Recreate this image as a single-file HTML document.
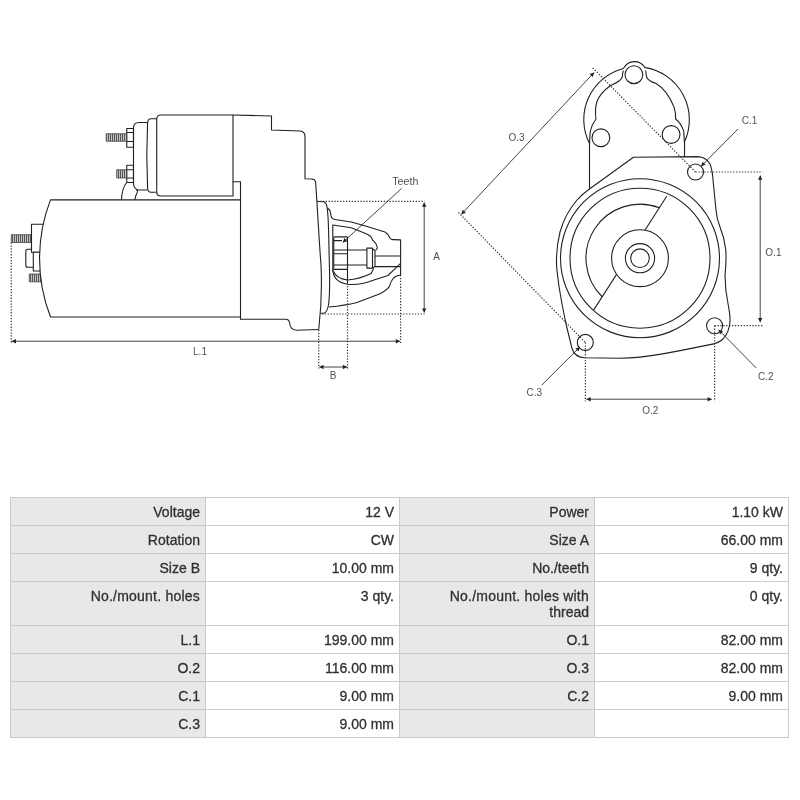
<!DOCTYPE html>
<html><head><meta charset="utf-8"><title>Starter motor dimensions</title>
<style>
html,body{margin:0;padding:0;background:#fff;}
body{width:800px;height:800px;position:relative;overflow:hidden;font-family:"Liberation Sans",sans-serif;}
svg{position:absolute;left:0;top:0;filter:blur(0.25px);}
svg path,svg rect,svg circle,svg line{fill:none;stroke:#202020;stroke-width:1.1;stroke-linejoin:round;stroke-linecap:butt}
svg .dl{stroke:#222;stroke-width:.85}
svg .dot{stroke:#333;stroke-width:1.2;stroke-dasharray:1.3 1.6}
svg .thr{fill:url(#thr);stroke:#444;stroke-width:.8}
svg .wf{fill:#fff}
svg .lb{font-family:"Liberation Sans",sans-serif;fill:#505050;text-anchor:middle}
.tw{position:absolute;left:0;top:.4px;width:800px;height:800px;filter:blur(0.25px)}
.tbg{position:absolute;background:#cbcbcb}
.c{position:absolute;box-sizing:border-box;font-size:14px;line-height:16px;color:#303030;-webkit-text-stroke:.3px #333;text-align:right;padding:6px 5px 0 6px;white-space:nowrap;overflow:hidden}
.k{background:#e8e8e8}
.w{letter-spacing:.22px}
.v{background:#fff}
</style></head><body>
<svg width="800" height="480" viewBox="0 0 800 480">
<defs><pattern id="thr" width="2" height="4" patternUnits="userSpaceOnUse"><rect width="2" height="4" style="fill:#c4c4c4;stroke:none"/><rect width="1" height="4" style="fill:#555;stroke:none"/></pattern></defs>
<rect x="25.8" y="249.25" width="9" height="18" rx="2"/>
<rect x="11.25" y="234.7" width="20.25" height="7.8" class="thr"/>
<rect x="31.5" y="224.2" width="14" height="28" class="wf"/>
<rect x="33.3" y="252.2" width="10" height="18.8" class="wf"/>
<rect x="29.25" y="274" width="14" height="7.8" class="thr"/>
<path class="wf" d="M240.5 199.9 L50.5 199.9 A162 162 0 0 0 50.5 317 L240.5 317"/>
<path d="M233 181.75 L240.5 181.75 L240.5 319.25 L286 319.25 Q289 319.4 289.5 322.5 Q290.3 330 296.5 330.2 L318.75 329.5"/>
<path d="M233 115 L161 115 Q156.75 115 156.75 119 L156.75 192 Q156.75 196 161 196 L233 196 Z"/>
<path d="M156.75 118.75 L151 118.75 Q148 118.75 147.6 122.5 Q146 155 147.6 188.5 Q148 192.25 151 192.25 L156.75 192.25"/>
<path d="M147.6 122.5 L139 122.5 Q133.5 122.5 133.5 128 L133.5 183 Q133.5 189.5 139 190 L147.7 190"/>
<rect x="126.75" y="128.5" width="6.75" height="18.75"/>
<path d="M126.75 132.5 H133.5 M126.75 141.5 H133.5"/>
<rect x="126.75" y="165.25" width="6.75" height="17.25"/>
<path d="M126.75 169.75 H133.5 M126.75 178 H133.5"/>
<rect x="106.2" y="133.75" width="20.5" height="7.5" class="thr"/>
<rect x="116.7" y="169.75" width="10" height="8.25" class="thr"/>
<path d="M126.75 182.5 Q122 188 121.5 199.5"/>
<path d="M136 190 Q138.5 190.5 137 193 Q135.3 196 135 199.5"/>
<path d="M233 115 L271.5 116 L271.5 130 L300 131 Q305 131.4 305 136.5 L305 178.75 L312 179 Q315 179.3 315.6 182 C317 200 319 240 321 265 C322 285 321 310 318.75 329.5"/>
<path d="M317 201.5 L324 201.7 Q326.5 203 327 207 Q328.2 214 328.6 232 L329.5 270 Q330 295 328.5 305 Q327 312.5 324 313.25 L320.5 313.25"/>
<path d="M327.5 208 L330 210.5 L331.25 217 Q332 219 335 219.5 L351.25 222 L366.25 226.25 L385 232 Q388.5 234 390.3 238.5 Q391 239.5 393 239.6 L400.6 239.9 L400.6 275 Q396 275.5 393.5 278 Q391 281 389.5 286 Q388 289.5 380 293.75 L357 302.5 Q345 305.5 328.7 307"/>
<path d="M332.8 271 L332.8 225 L351.25 227.75 L366.25 233.75 Q371.5 236 372.5 240 Q376.5 243 377.4 248 L375.6 250.5"/>
<path d="M333.3 271 Q336 278.5 347.5 280 Q360 279 371 273.5 L373.75 268.5"/>
<path d="M332.8 270 Q333.5 282 347.5 284.3 Q360 285.5 372.5 280.5 L388 275.5 Q395 268.5 400.6 263.3"/>
<path d="M375 256 H400.6 M375 266.6 H400.6"/>
<rect x="366.9" y="248.1" width="5.6" height="20"/>
<path d="M372.5 249 L375 250.5 L375 266.5 L372.5 268"/>
<path d="M347.5 250 H366.9 M347.5 265 H366.9"/>
<path d="M333.75 236.9 V270 M333.75 236.9 H347.5 M333.75 240.6 H342 M333.75 250 H347.5 M333.75 253.75 H347.5 M333.75 265 H347.5 M333.75 269.4 H347.5 M347.5 236.9 V283"/>
<line x1="317.00" y1="201.40" x2="424.60" y2="201.40" class="dot"/>
<line x1="322.00" y1="314.00" x2="424.60" y2="314.00" class="dot"/>
<line x1="424.20" y1="202.60" x2="424.20" y2="312.60" class="dl"/><polygon points="424.20,312.60 422.00,308.40 426.40,308.40" fill="#222" stroke="none"/><polygon points="424.20,202.60 426.40,206.80 422.00,206.80" fill="#222" stroke="none"/>
<text x="436.60" y="259.60" class="lb" font-size="10">A</text>
<line x1="318.75" y1="330.00" x2="318.75" y2="368.50" class="dot"/>
<line x1="347.50" y1="283.00" x2="347.50" y2="368.50" class="dot"/>
<line x1="319.30" y1="367.00" x2="347.00" y2="367.00" class="dl"/><polygon points="347.00,367.00 342.80,369.20 342.80,364.80" fill="#222" stroke="none"/><polygon points="319.30,367.00 323.50,364.80 323.50,369.20" fill="#222" stroke="none"/>
<text x="333.20" y="378.70" class="lb" font-size="10">B</text>
<line x1="11.25" y1="242.50" x2="11.25" y2="343.00" class="dot"/>
<line x1="400.60" y1="275.00" x2="400.60" y2="343.00" class="dot"/>
<line x1="11.80" y1="341.20" x2="400.00" y2="341.20" class="dl"/><polygon points="400.00,341.20 395.80,343.40 395.80,339.00" fill="#222" stroke="none"/><polygon points="11.80,341.20 16.00,339.00 16.00,343.40" fill="#222" stroke="none"/>
<text x="200.00" y="355.40" class="lb" font-size="10">L.1</text>
<line x1="401.50" y1="188.50" x2="342.75" y2="242.50" class="dl"/><polygon points="342.75,242.50 344.35,238.04 347.33,241.28" fill="#222" stroke="none"/>
<text x="405.30" y="184.60" class="lb" font-size="10.7">Teeth</text>
<path d="M589.5 189 L633.4 157.25 L698 156.6 Q706 157 710 164 Q712.5 170 713.4 183.75 L716 210 Q716.8 219 720 227 Q724.5 238 725.8 250 Q726.5 262 725 275 Q725 290 728.25 305 Q730.3 316 730 321 Q729.5 332 723 339 Q718 343.5 710 344.6 L695 347.6 Q662 354.6 640 357.1 Q630 358.2 620 358.3 L584 357.7 Q574.5 356.9 572 348.5 L566 324 L562 304 Q558.5 286 556.7 268 Q555.6 250 560 232 Q565 214 577 200 Q583 193.5 589.5 189"/>
<path d="M589.5 189 L589.5 143.5 A52.8 52.8 0 0 1 622.6 68.7 Q623.5 68.6 623.9 67.8 A12.2 12.2 0 0 1 644.6 67 Q644.9 67.8 645.6 67.6 A52.8 52.8 0 0 1 684.6 141.5 L684.5 157"/>
<path d="M623.3 70.5 Q622.5 74 622.3 77 Q621 81 610.6 85.5 Q600 93 596.8 102 Q594.6 110 596 119 Q591.5 125 590.3 131.25 Q589.6 138 589.5 146"/>
<path d="M645.6 70.5 Q646.2 74 646.6 77 Q648 81 656.1 83.5 Q667 90 674 106.9 Q676 113 675.6 119 Q681 123 683.75 131.25 L684.5 144"/>
<circle cx="633.9" cy="74.7" r="8.9"/>
<circle cx="600.9" cy="137.75" r="8.9"/>
<circle cx="671.1" cy="134.5" r="8.9"/>
<circle cx="640" cy="258.2" r="79.5"/>
<circle cx="640" cy="258.2" r="70"/>
<line x1="666.75" y1="196.3" x2="593.6" y2="310.1"/>
<path d="M659.36 207.79 A54 54 0 0 0 602.18 296.75"/>
<circle cx="640" cy="258.2" r="28.4" style="fill:#fff"/>
<circle cx="640" cy="258.2" r="14.6"/>
<circle cx="640" cy="258.2" r="9.3"/>
<circle cx="695.5" cy="172" r="8"/>
<circle cx="714.6" cy="325.7" r="8"/>
<circle cx="585.3" cy="342.4" r="8"/>
<line x1="461.40" y1="214.25" x2="594.10" y2="72.50" class="dl"/><polygon points="594.10,72.50 592.84,77.07 589.62,74.06" fill="#222" stroke="none"/><polygon points="461.40,214.25 462.66,209.68 465.88,212.69" fill="#222" stroke="none"/>
<text x="516.50" y="141.30" class="lb" font-size="10">O.3</text>
<line x1="592.75" y1="67.90" x2="695.50" y2="172.00" class="dot"/>
<line x1="458.50" y1="212.50" x2="585.30" y2="342.40" class="dot"/>
<line x1="738.00" y1="129.00" x2="701.10" y2="166.25" class="dl"/><polygon points="701.10,166.25 702.49,161.72 705.62,164.81" fill="#222" stroke="none"/>
<text x="749.60" y="123.60" class="lb" font-size="10">C.1</text>
<line x1="695.50" y1="172.00" x2="762.40" y2="172.00" class="dot"/>
<line x1="714.60" y1="325.70" x2="763.25" y2="325.70" class="dot"/>
<line x1="760.20" y1="175.50" x2="760.20" y2="322.30" class="dl"/><polygon points="760.20,322.30 758.00,318.10 762.40,318.10" fill="#222" stroke="none"/><polygon points="760.20,175.50 762.40,179.70 758.00,179.70" fill="#222" stroke="none"/>
<text x="773.40" y="255.60" class="lb" font-size="10">O.1</text>
<line x1="756.25" y1="368.00" x2="718.60" y2="329.85" class="dl"/><polygon points="718.60,329.85 723.12,331.29 719.98,334.38" fill="#222" stroke="none"/>
<text x="765.90" y="379.80" class="lb" font-size="10">C.2</text>
<line x1="585.40" y1="342.50" x2="585.40" y2="401.25" class="dot"/>
<line x1="714.60" y1="325.70" x2="714.60" y2="401.25" class="dot"/>
<line x1="586.40" y1="399.20" x2="711.80" y2="399.20" class="dl"/><polygon points="711.80,399.20 707.60,401.40 707.60,397.00" fill="#222" stroke="none"/><polygon points="586.40,399.20 590.60,397.00 590.60,401.40" fill="#222" stroke="none"/>
<text x="650.30" y="413.60" class="lb" font-size="10">O.2</text>
<line x1="541.60" y1="385.25" x2="579.90" y2="347.00" class="dl"/><polygon points="579.90,347.00 578.48,351.52 575.37,348.41" fill="#222" stroke="none"/>
<text x="534.40" y="396.10" class="lb" font-size="10">C.3</text>
</svg>
<div class="tw">
<div class="tbg" style="left:10px;top:497px;width:779px;height:241px"></div>
<div class="c k" style="left:11px;top:498px;width:194px;height:27px">Voltage</div>
<div class="c v" style="left:206px;top:498px;width:193px;height:27px">12 V</div>
<div class="c k" style="left:400px;top:498px;width:194px;height:27px">Power</div>
<div class="c v" style="left:595px;top:498px;width:193px;height:27px">1.10 kW</div>
<div class="c k" style="left:11px;top:526px;width:194px;height:27px">Rotation</div>
<div class="c v" style="left:206px;top:526px;width:193px;height:27px">CW</div>
<div class="c k" style="left:400px;top:526px;width:194px;height:27px">Size A</div>
<div class="c v" style="left:595px;top:526px;width:193px;height:27px">66.00 mm</div>
<div class="c k" style="left:11px;top:554px;width:194px;height:27px">Size B</div>
<div class="c v" style="left:206px;top:554px;width:193px;height:27px">10.00 mm</div>
<div class="c k" style="left:400px;top:554px;width:194px;height:27px">No./teeth</div>
<div class="c v" style="left:595px;top:554px;width:193px;height:27px">9 qty.</div>
<div class="c k" style="left:11px;top:582px;width:194px;height:43px"><span class=w>No./mount. holes</span></div>
<div class="c v" style="left:206px;top:582px;width:193px;height:43px">3 qty.</div>
<div class="c k" style="left:400px;top:582px;width:194px;height:43px"><span class=w>No./mount. holes with</span><br>thread</div>
<div class="c v" style="left:595px;top:582px;width:193px;height:43px">0 qty.</div>
<div class="c k" style="left:11px;top:626px;width:194px;height:27px">L.1</div>
<div class="c v" style="left:206px;top:626px;width:193px;height:27px">199.00 mm</div>
<div class="c k" style="left:400px;top:626px;width:194px;height:27px">O.1</div>
<div class="c v" style="left:595px;top:626px;width:193px;height:27px">82.00 mm</div>
<div class="c k" style="left:11px;top:654px;width:194px;height:27px">O.2</div>
<div class="c v" style="left:206px;top:654px;width:193px;height:27px">116.00 mm</div>
<div class="c k" style="left:400px;top:654px;width:194px;height:27px">O.3</div>
<div class="c v" style="left:595px;top:654px;width:193px;height:27px">82.00 mm</div>
<div class="c k" style="left:11px;top:682px;width:194px;height:27px">C.1</div>
<div class="c v" style="left:206px;top:682px;width:193px;height:27px">9.00 mm</div>
<div class="c k" style="left:400px;top:682px;width:194px;height:27px">C.2</div>
<div class="c v" style="left:595px;top:682px;width:193px;height:27px">9.00 mm</div>
<div class="c k" style="left:11px;top:710px;width:194px;height:27px">C.3</div>
<div class="c v" style="left:206px;top:710px;width:193px;height:27px">9.00 mm</div>
<div class="c k" style="left:400px;top:710px;width:194px;height:27px"></div>
<div class="c v" style="left:595px;top:710px;width:193px;height:27px"></div>
</div>
</body></html>
